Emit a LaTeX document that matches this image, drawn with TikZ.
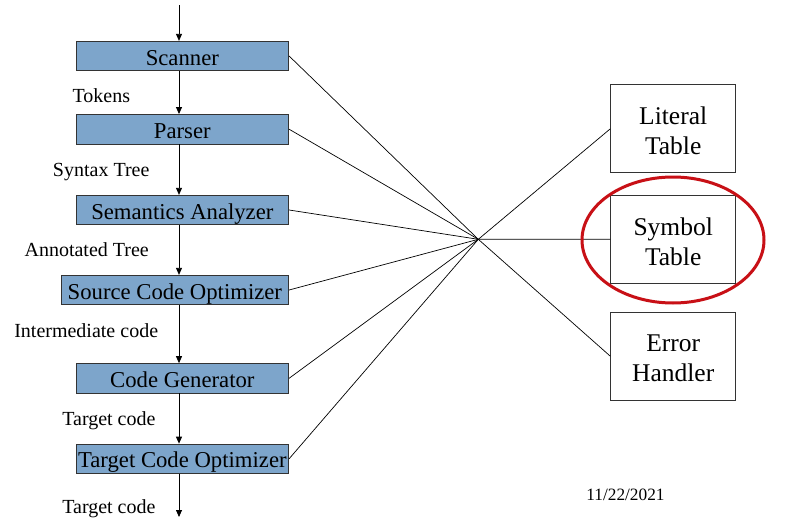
\documentclass[tikz,border=0pt]{standalone}
\usepackage{fontspec}
\setmainfont{Liberation Serif}
\usetikzlibrary{arrows.meta,calc,shapes.geometric}
\definecolor{boxblue}{RGB}{125,165,203}
\definecolor{ringred}{RGB}{200,16,22}
\tikzset{
  phase/.style={draw=black!80, fill=boxblue, line width=0.8pt, minimum height=29.5pt,
    inner sep=0pt, text height=18pt, text depth=0pt, font=\fontsize{22.7}{26}\selectfont},
  tablebox/.style={draw=black!80, fill=white, line width=0.8pt, minimum width=125pt,
    minimum height=88pt, align=center, inner sep=0pt, font=\fontsize{25.5}{30}\selectfont},
  flowlbl/.style={anchor=base, inner sep=0pt, font=\fontsize{20}{24}\selectfont},
  flow/.style={-{Triangle[width=6pt,length=7pt]}, line width=0.8pt},
  spoke/.style={line width=0.7pt}
}
\begin{document}
\begin{tikzpicture}[x=1pt,y=-1pt]
\useasboundingbox[fill=white] (0,0) rectangle (809,530);
% phase boxes
\node[phase, minimum width=212.7pt] (scan) at (182.35,56) {Scanner};
\node[phase, minimum width=212.7pt] (pars) at (182.35,129.2) {Parser};
\node[phase, minimum width=212.7pt] (sema) at (182.35,210) {Semantics Analyzer};
\node[phase, minimum width=227.7pt] (sopt) at (174.85,290) {Source Code Optimizer};
\node[phase, minimum width=212.7pt] (cgen) at (182.35,378.3) {Code Generator};
\node[phase, minimum width=212.7pt] (topt) at (182.35,458.8) {Target Code Optimizer};
% flow
\coordinate (ax) at (179,0);
\coordinate (top) at (179,5);
\coordinate (bot) at (179,517);
\draw[flow] (top) -- (scan.north -| ax);
\draw[flow] (scan.south -| ax) -- (pars.north -| ax);
\draw[flow] (pars.south -| ax) -- (sema.north -| ax);
\draw[flow] (sema.south -| ax) -- (sopt.north -| ax);
\draw[flow] (sopt.south -| ax) -- (cgen.north -| ax);
\draw[flow] (cgen.south -| ax) -- (topt.north -| ax);
\draw[flow] (topt.south -| ax) -- (bot);
% labels
\node[flowlbl] (l1) at (101.3,102) {Tokens};
\node[flowlbl] (l2) at (101.2,176) {Syntax Tree};
\node[flowlbl] (l3) at (86.7,256) {Annotated Tree};
\node[flowlbl] (l4) at (86.2,337.3) {Intermediate code};
\node[flowlbl] (l5) at (108.9,425.7) {Target code};
\node[flowlbl] (l6) at (108.9,513.3) {Target code};
% tables (boxes) and their texts
\node[tablebox] (lit) at (673.2,128.8) {};
\node[tablebox] (sym) at (673.2,239.2) {};
\node[tablebox] (err) at (673.2,356.2) {};
\node[align=center, inner sep=0pt, font=\fontsize{25.5}{30}\selectfont] (litt) at (673.2,131) {Literal\\Table};
\node[align=center, inner sep=0pt, font=\fontsize{25.5}{30}\selectfont] (symt) at (673.2,241.4) {Symbol\\Table};
\node[align=center, inner sep=0pt, font=\fontsize{25.5}{30}\selectfont] (errt) at (673.2,358.4) {Error\\Handler};
% hub
\coordinate (hub) at (478.3,239.3);
\foreach \n in {scan,pars,sema,sopt,cgen,topt} \draw[spoke] (\n.east) -- (hub);
\foreach \n in {lit,sym,err} \draw[spoke] (hub) -- (\n.west);
% highlight
\node[draw=ringred, line width=3pt, ellipse, minimum width=182pt, minimum height=126pt, inner sep=0pt] (ring) at (673,240) {};
% date
\node[anchor=base, inner sep=0pt, font=\fontsize{17.3}{20}\selectfont] (date) at (625.5,500) {11/22/2021};
\end{tikzpicture}
\end{document}
